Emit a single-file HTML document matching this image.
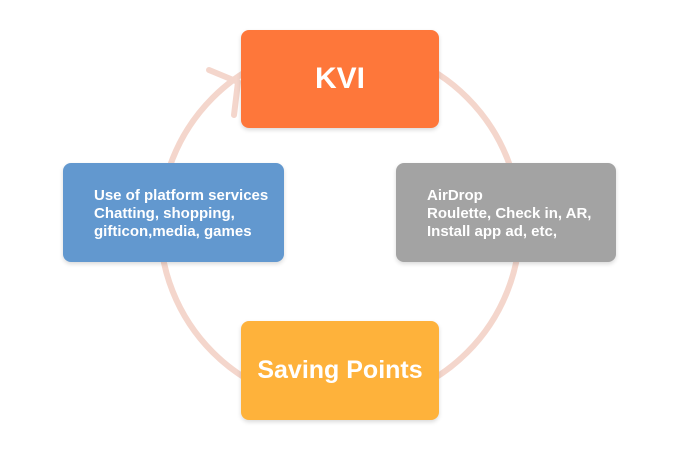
<!DOCTYPE html>
<html><head><style>
body{margin:0;background:#fff;width:680px;height:450px;position:relative;overflow:hidden;font-family:"Liberation Sans",sans-serif}
.b{position:absolute;border-radius:8px;color:#fff;box-shadow:0 2px 4px rgba(0,0,0,.15)}
.t{font-size:15px;font-weight:bold;line-height:18px;position:absolute;white-space:nowrap}
</style></head><body>
<svg width="680" height="450" style="position:absolute;left:0;top:0">
<circle cx="340" cy="225" r="180" fill="none" stroke="#f4d6cc" stroke-width="6"/>
<polyline points="209,70 238,82 234,115" fill="none" stroke="#f4d6cc" stroke-width="6" stroke-linecap="round" stroke-linejoin="round"/>
</svg>
<div class="b" style="left:241px;top:30px;width:198px;height:98px;background:#fe773a;display:flex;align-items:center;justify-content:center;font-size:30px;font-weight:bold">KVI</div>
<div class="b" style="left:241px;top:321px;width:198px;height:99px;background:#feb23b;display:flex;align-items:center;justify-content:center;font-size:25px;font-weight:bold">Saving Points</div>
<div class="b" style="left:63px;top:163px;width:221px;height:99px;background:#6298cf"><div class="t" style="left:31px;top:24px">Use of platform services<br>Chatting, shopping,<br>gifticon,media, games</div></div>
<div class="b" style="left:396px;top:163px;width:220px;height:99px;background:#a3a3a3"><div class="t" style="left:31px;top:24px">AirDrop<br>Roulette, Check in, AR,<br>Install app ad, etc,</div></div>
</body></html>
